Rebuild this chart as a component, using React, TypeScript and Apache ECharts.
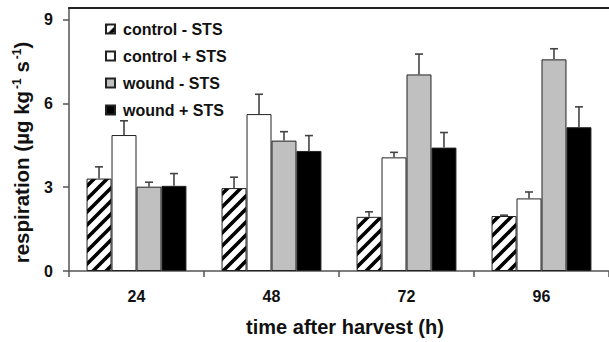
import React, { useEffect, useRef } from "react";
import * as echarts from "echarts";

const categories = ["24", "48", "72", "96"];
const seriesNames = ["control - STS", "control + STS", "wound - STS", "wound + STS"];
const controlMinus = [3.31, 2.97, 1.94, 1.97];
const controlMinusErr = [0.42, 0.39, 0.18, 0.03];
const controlPlus = [4.87, 5.62, 4.07, 2.6];
const controlPlusErr = [0.51, 0.71, 0.18, 0.23];
const woundMinus = [3.02, 4.67, 7.04, 7.58];
const woundMinusErr = [0.16, 0.32, 0.73, 0.38];
const woundPlus = [3.05, 4.3, 4.42, 5.15];
const woundPlusErr = [0.44, 0.55, 0.54, 0.73];
const yTicks = [0, 3, 6, 9];

const means = [controlMinus, controlPlus, woundMinus, woundPlus];
const errs = [controlMinusErr, controlPlusErr, woundMinusErr, woundPlusErr];

const GAP = 0.26;
const FONT = "Liberation Sans, Arial, sans-serif";

function makeHatch(): HTMLCanvasElement {
  const s = 13;
  const c = document.createElement("canvas");
  c.width = s;
  c.height = s;
  const ctx = c.getContext("2d")!;
  ctx.fillStyle = "#ffffff";
  ctx.fillRect(0, 0, s, s);
  ctx.strokeStyle = "#000000";
  ctx.lineWidth = 3.6;
  ctx.lineCap = "square";
  const lines = [
    [0, s, s, 0],
    [-s, s, s, -s],
    [0, 2 * s, 2 * s, 0],
  ];
  for (const [a, b, c2, d] of lines) {
    ctx.beginPath();
    ctx.moveTo(a, b);
    ctx.lineTo(c2, d);
    ctx.stroke();
  }
  return c;
}

export default function App() {
  const ref = useRef<HTMLDivElement>(null);
  useEffect(() => {
    if (!ref.current) return;
    const chart = echarts.init(ref.current, undefined, { renderer: "svg" });
    const hatch = makeHatch();
    const colors: any[] = [
      { image: hatch, repeat: "repeat" },
      "#ffffff",
      "#c0c0c0",
      "#000000",
    ];
    const barSeries = seriesNames.map((name, k) => ({
      name,
      type: "bar",
      data: means[k],
      barGap: "0%",
      barCategoryGap: GAP * 100 + "%",
      itemStyle: { color: colors[k], borderColor: "#222", borderWidth: 1 },
      z: 2,
    }));
    const errSeries = seriesNames.map((name, k) => ({
      name: "err-" + name,
      type: "custom",
      z: 3,
      encode: { x: 0, y: 1 },
      data: categories.map((_, i) => [i, means[k][i], errs[k][i]]),
      renderItem: (params: any, api: any) => {
        const ci = api.value(0);
        const m = api.value(1);
        const e = api.value(2);
        const base = api.coord([ci, m]);
        const top = api.coord([ci, m + e]);
        const band = api.size([1, 0])[0];
        const bw = (band * (1 - GAP)) / 4;
        const x = base[0] + (k - 1.5) * bw;
        const st = { stroke: "#444", lineWidth: 1.6 };
        return {
          type: "group",
          children: [
            { type: "line", shape: { x1: x, y1: base[1], x2: x, y2: top[1] }, style: st },
            { type: "line", shape: { x1: x - 4, y1: top[1], x2: x + 4, y2: top[1] }, style: st },
          ],
        };
      },
    }));
    chart.setOption({
      animation: false,
      textStyle: { fontFamily: FONT },
      grid: { left: 69, right: -2, top: 8, bottom: 69, containLabel: false },
      legend: {
        data: seriesNames,
        orient: "vertical",
        left: 105,
        top: 21,
        padding: 0,
        icon: "rect",
        itemWidth: 9,
        itemHeight: 9,
        itemGap: 11,
        textStyle: {
          fontFamily: FONT,
          fontSize: 16,
          fontWeight: "bold",
          color: "#111",
          padding: [0, 0, 0, 3],
        },
      },
      xAxis: [
        {
          type: "category",
          data: categories,
          axisLine: { lineStyle: { color: "#555", width: 1.5 } },
          axisTick: { show: true, length: 6, lineStyle: { color: "#555", width: 1.5 } },
          axisLabel: {
            fontSize: 16,
            fontWeight: "bold",
            color: "#111",
            margin: 17,
            fontFamily: FONT,
          },
          name: "time after harvest (h)",
          nameLocation: "middle",
          nameGap: 46,
          nameTextStyle: {
            fontSize: 20,
            fontWeight: "bold",
            color: "#111",
            fontFamily: FONT,
            padding: [0, 0, 0, 12],
          },
        },
        {
          type: "category",
          data: categories,
          position: "top",
          axisLine: { show: true, lineStyle: { color: "#222", width: 2 } },
          axisTick: { show: false },
          axisLabel: { show: false },
        },
      ],
      yAxis: {
        type: "value",
        min: 0,
        max: 9.42,
        interval: 3,
        splitLine: { show: false },
        axisLine: { show: true, lineStyle: { color: "#555", width: 1.5 } },
        axisTick: {
          show: true,
          length: 6,
          customValues: yTicks,
          lineStyle: { color: "#555", width: 1.5 },
        },
        axisLabel: {
          customValues: yTicks,
          fontSize: 16,
          fontWeight: "bold",
          color: "#111",
          margin: 16,
          fontFamily: FONT,
        },
        name: "{n|respiration (µg kg}{s|-1}{n| s}{s|-1}{n|)}",
        nameLocation: "middle",
        nameRotate: 90,
        nameGap: 37,
        nameTextStyle: {
          padding: [0, 26, 0, 0],
          rich: {
            n: { fontSize: 20.5, fontWeight: "bold", color: "#111", fontFamily: FONT },
            s: {
              fontSize: 12,
              fontWeight: "bold",
              color: "#111",
              fontFamily: FONT,
              padding: [0, 0, 9, 2],
            },
          },
        },
      },
      series: [...barSeries, ...errSeries],
    });
    return () => chart.dispose();
  }, []);
  return (
    <div
      ref={ref}
      style={{ position: "fixed", left: 0, top: 0, width: 609, height: 342, background: "#fff" }}
    />
  );
}
